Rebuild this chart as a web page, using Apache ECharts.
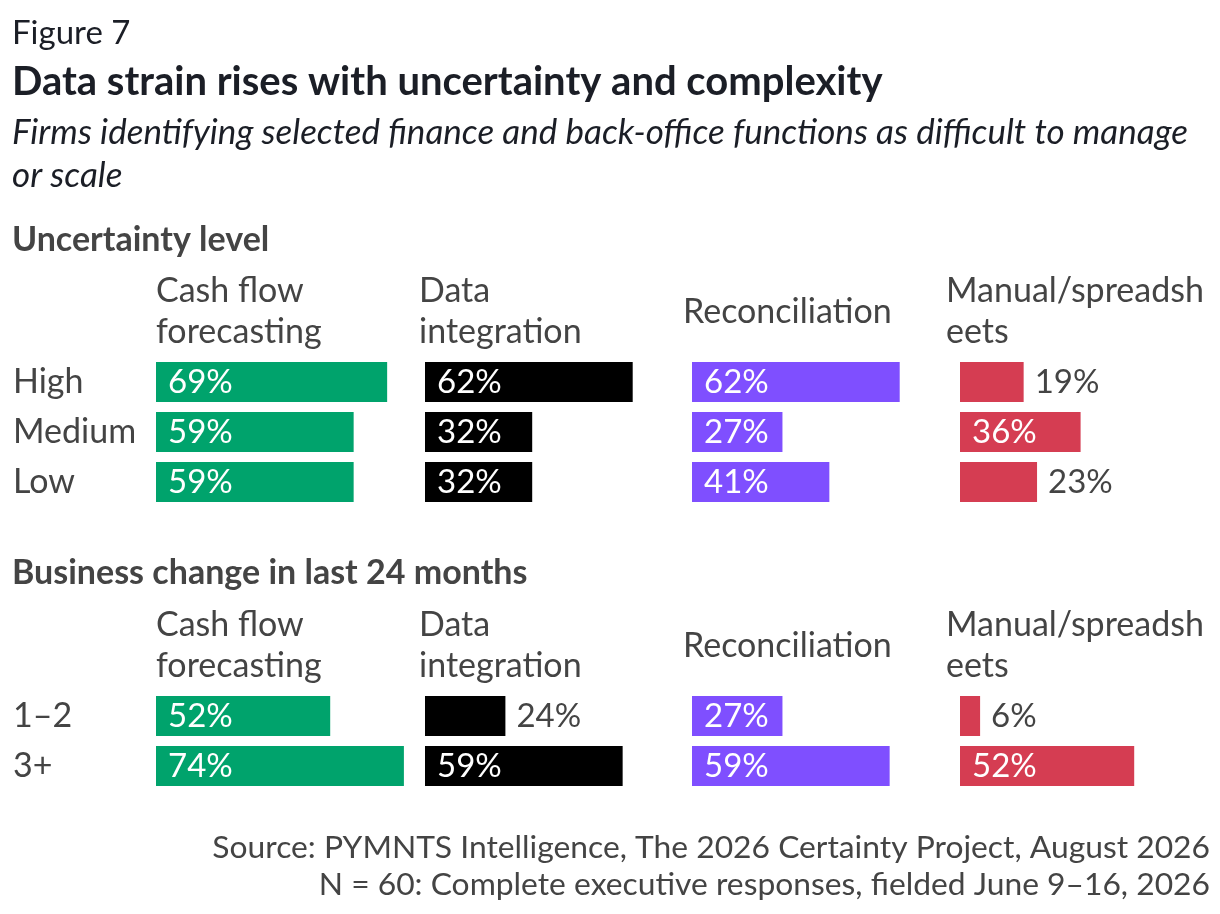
<!DOCTYPE html>
<html>
<head>
<meta charset="utf-8">
<script src="https://cdn.jsdelivr.net/npm/echarts@6/dist/echarts.min.js"></script>
<style>
  html, body { margin: 0; padding: 0; background: #fff; }
  #main { width: 1220px; height: 914px; }
</style>
</head>
<body>
<div id="main"></div>
<script>
// Column headers (functions)
const functionNames = ["Cash flow\nforecasting", "Data\nintegration", "Reconciliation", "Manual/spreadsh\neets"];

// Uncertainty level section
const uncertaintyLevels = ["High", "Medium", "Low"];
const uncertCashFlow = [69, 59, 59];
const uncertDataIntegration = [62, 32, 32];
const uncertReconciliation = [62, 27, 41];
const uncertManual = [19, 36, 23];

// Business change section
const changeLevels = ["1–2", "3+"];
const changeCashFlow = [52, 74];
const changeDataIntegration = [24, 59];
const changeReconciliation = [27, 59];
const changeManual = [6, 52];

const colors = ["#00a36c", "#000000", "#7f4fff", "#d53d52"];
const textGray = "#444444";
const titleColor = "#1b1e26";
const FONT = "Lato, 'Noto Sans', sans-serif";

// bar columns and header positions
const colLefts = [156, 425, 692, 960];
const headerLefts = [156, 419, 683, 946];
const axisMax = 75;
const colWidth = 251.25; // 3.35 px per point

const sections = [
  {
    name: "Uncertainty level",
    nameY: 240,
    headerY: 312,
    levels: uncertaintyLevels,
    values: [uncertCashFlow, uncertDataIntegration, uncertReconciliation, uncertManual],
    top: 357,
    height: 150,
  },
  {
    name: "Business change in last 24 months",
    nameY: 573,
    headerY: 646,
    levels: changeLevels,
    values: [changeCashFlow, changeDataIntegration, changeReconciliation, changeManual],
    top: 691,
    height: 100,
  },
];

const grids = [];
const xAxes = [];
const yAxes = [];
const series = [];
const graphics = [];

// Title block
graphics.push(
  { type: "text", x: 12, y: 33, style: { text: "Figure 7", font: `33px ${FONT}`, fill: titleColor, verticalAlign: "middle" } },
  { type: "text", x: 12, y: 82, style: { text: "Data strain rises with uncertainty and complexity", font: `bold 40px ${FONT}`, fill: titleColor, verticalAlign: "middle" } },
  {
    type: "text", x: 12, y: 154.5,
    style: {
      text: "Firms identifying selected finance and back-office functions as difficult to manage\nor scale",
      font: `italic 35px ${FONT}`, fill: titleColor, lineHeight: 43, verticalAlign: "middle",
    },
  },
  {
    type: "text", x: 1210, y: 866.5,
    style: {
      text: "Source: PYMNTS Intelligence, The 2026 Certainty Project, August 2026\nN = 60: Complete executive responses, fielded June 9–16, 2026",
      font: `31.8px ${FONT}`, fill: textGray, lineHeight: 37, align: "right", verticalAlign: "middle",
    },
  }
);

sections.forEach((sec) => {
  graphics.push({
    type: "text", x: 12, y: sec.nameY,
    style: { text: sec.name, font: `bold 34px ${FONT}`, fill: textGray, verticalAlign: "middle" },
  });

  for (let c = 0; c < 4; c++) {
    const idx = grids.length;
    graphics.push({
      type: "text", x: headerLefts[c], y: sec.headerY,
      style: { text: functionNames[c], font: `34px ${FONT}`, fill: textGray, lineHeight: 41, verticalAlign: "middle" },
    });

    grids.push({ left: colLefts[c], top: sec.top, width: colWidth, height: sec.height });
    xAxes.push({ type: "value", gridIndex: idx, min: 0, max: axisMax, show: false });
    yAxes.push({
      type: "category",
      gridIndex: idx,
      data: sec.levels,
      inverse: true,
      axisLine: { show: false },
      axisTick: { show: false },
      splitLine: { show: false },
      axisLabel: {
        show: c === 0,
        align: "left",
        margin: 143,
        color: textGray,
        fontSize: 34,
        fontFamily: FONT,
      },
    });

    series.push({
      type: "bar",
      xAxisIndex: idx,
      yAxisIndex: idx,
      barWidth: 40,
      itemStyle: { color: colors[c] },
      silent: true,
      data: sec.values[c].map((v) => {
        const inside = v >= 25;
        return {
          value: v,
          label: {
            show: true,
            formatter: "{c}%",
            position: inside ? "insideLeft" : "right",
            distance: inside ? 12 : 11,
            color: inside ? "#ffffff" : textGray,
            fontSize: 33,
            fontFamily: FONT,
          },
        };
      }),
    });
  }
});

const chart = echarts.init(document.getElementById("main"));
chart.setOption({
  animation: false,
  backgroundColor: "#ffffff",
  grid: grids,
  xAxis: xAxes,
  yAxis: yAxes,
  series: series,
  graphic: graphics,
});
window.addEventListener("resize", () => chart.resize());
</script>
</body>
</html>
